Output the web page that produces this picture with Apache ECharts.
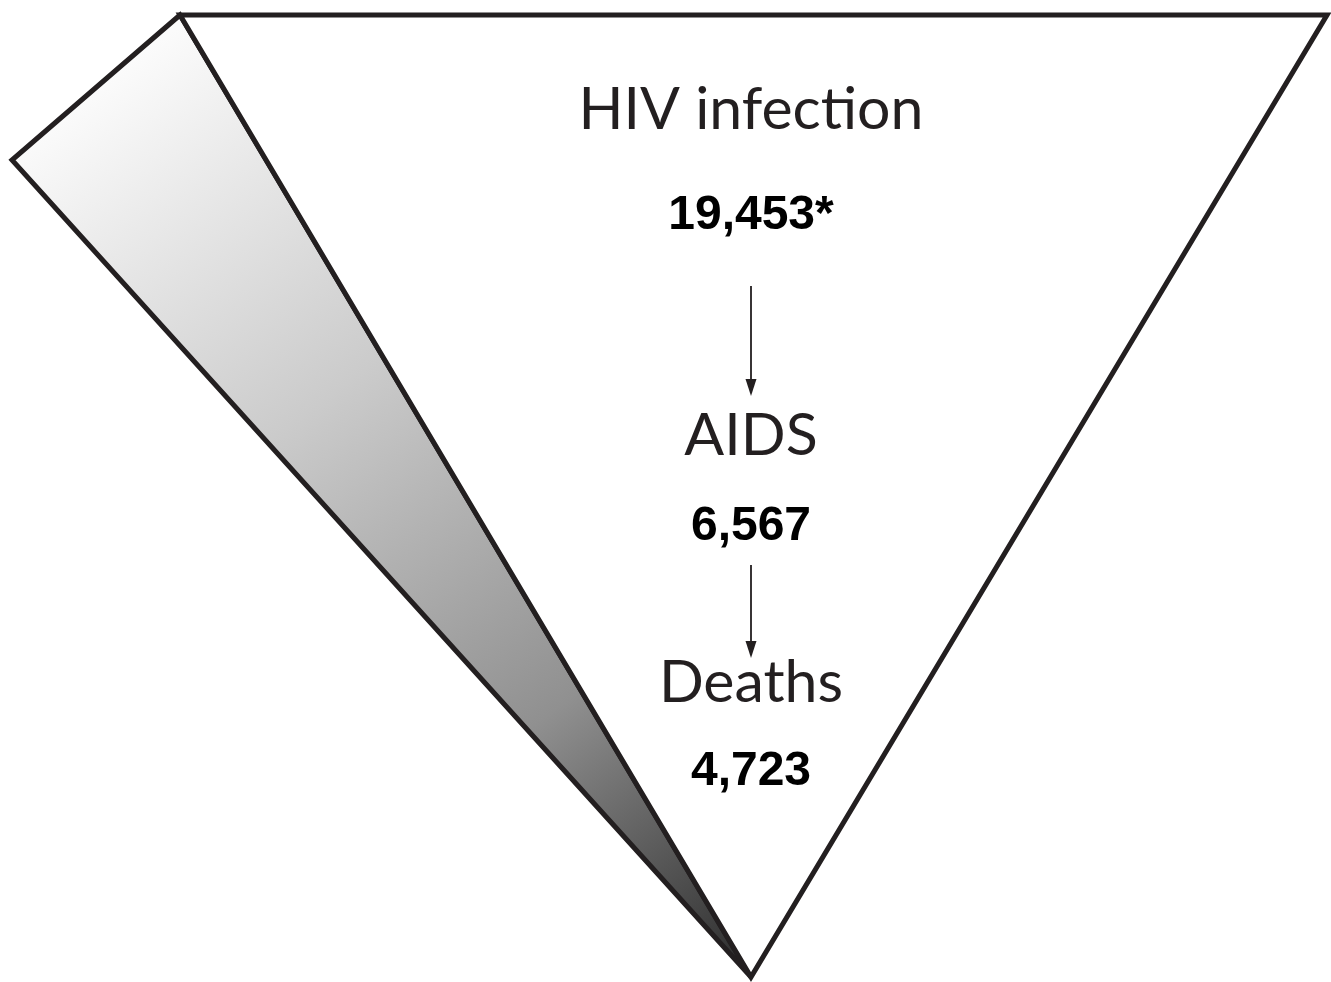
<!DOCTYPE html>
<html><head><meta charset="utf-8">
<script src="https://cdn.jsdelivr.net/npm/echarts@6/dist/echarts.min.js"></script>
<style>html,body{margin:0;padding:0;background:#fff}#c{width:1331px;height:982px}</style>
</head><body><div id="c"></div>
<script>
// ---- data ----
const stages = ['HIV infection', 'AIDS', 'Deaths'];
const counts = [19453, 6567, 4723];
const countNotes = ['*', '', ''];

// ---- layout (diagram space, pixels, y downward) ----
const centerX = 751;
const stageY = [110, 436, 683];
const countY = [216, 527, 772];
const arrowSpans = [[286, 396], [565, 658]];
const triangle = [[180, 15], [1327, 15], [751, 977]];
const wedge = [[180, 15], [12, 160], [751, 977]];

const chart = echarts.init(document.getElementById('c'), null, {renderer: 'canvas'});
const ink = '#231f20';

function fmt(n) { return n.toLocaleString('en-US'); }

chart.setOption({
  animation: false,
  backgroundColor: '#ffffff',
  grid: {left: 0, right: 0, top: 0, bottom: 0},
  xAxis: {type: 'value', min: 0, max: 1331, show: false},
  yAxis: {type: 'value', min: 0, max: 982, inverse: true, show: false},
  series: [
    {
      type: 'custom', coordinateSystem: 'cartesian2d', silent: true,
      data: [[0, 0]],
      renderItem: function (params, api) {
        const w = wedge.map(p => api.coord(p));
        const t = triangle.map(p => api.coord(p));
        const a = api.coord([(wedge[0][0] + wedge[1][0]) / 2, (wedge[0][1] + wedge[1][1]) / 2]);
        const b = api.coord(wedge[2]);
        return {
          type: 'group',
          children: [
            {
              type: 'polygon', shape: {points: w},
              style: {
                fill: {type: 'linear', x: a[0], y: a[1], x2: b[0], y2: b[1], global: true,
                  colorStops: [
                    {offset: 0, color: '#fbfbfb'},
                    {offset: 0.35, color: '#cbcbcb'},
                    {offset: 0.7, color: '#909090'},
                    {offset: 1, color: '#2a2a2a'}
                  ]},
                stroke: ink, lineWidth: 5, lineJoin: 'miter'
              }
            },
            {
              type: 'polygon', shape: {points: t},
              style: {fill: '#ffffff', stroke: ink, lineWidth: 5, lineJoin: 'miter'}
            }
          ]
        };
      }
    },
    {
      type: 'custom', coordinateSystem: 'cartesian2d', silent: true,
      data: arrowSpans.map((s, i) => [centerX, s[0], s[1]]),
      renderItem: function (params, api) {
        const p0 = api.coord([api.value(0), api.value(1)]);
        const p1 = api.coord([api.value(0), api.value(2)]);
        const hw = 5.5, hl = 17;
        return {
          type: 'group',
          children: [
            {type: 'line', shape: {x1: p0[0], y1: p0[1], x2: p1[0], y2: p1[1] - hl + 2},
              style: {stroke: ink, lineWidth: 1.8}},
            {type: 'polygon', shape: {points: [[p1[0] - hw, p1[1] - hl], [p1[0] + hw, p1[1] - hl], [p1[0], p1[1]]]},
              style: {fill: ink}}
          ]
        };
      }
    },
    {
      type: 'custom', coordinateSystem: 'cartesian2d', silent: true,
      data: stages.map((s, i) => [centerX, stageY[i], countY[i], i]),
      renderItem: function (params, api) {
        const i = api.value(3);
        const p = api.coord([api.value(0), api.value(1)]);
        const q = api.coord([api.value(0), api.value(2)]);
        return {
          type: 'group',
          children: [
            {type: 'text', x: p[0], y: p[1],
              style: {text: stages[i], fill: ink, font: '400 59px Lato',
                align: 'center', verticalAlign: 'middle', textAlign: 'center', textVerticalAlign: 'middle'}},
            {type: 'text', x: q[0], y: q[1],
              style: {text: fmt(counts[i]) + countNotes[i], fill: '#000', font: 'bold 48px "Liberation Sans", Arial',
                align: 'center', verticalAlign: 'middle', textAlign: 'center', textVerticalAlign: 'middle'}}
          ]
        };
      }
    }
  ]
});
</script>
</body></html>
